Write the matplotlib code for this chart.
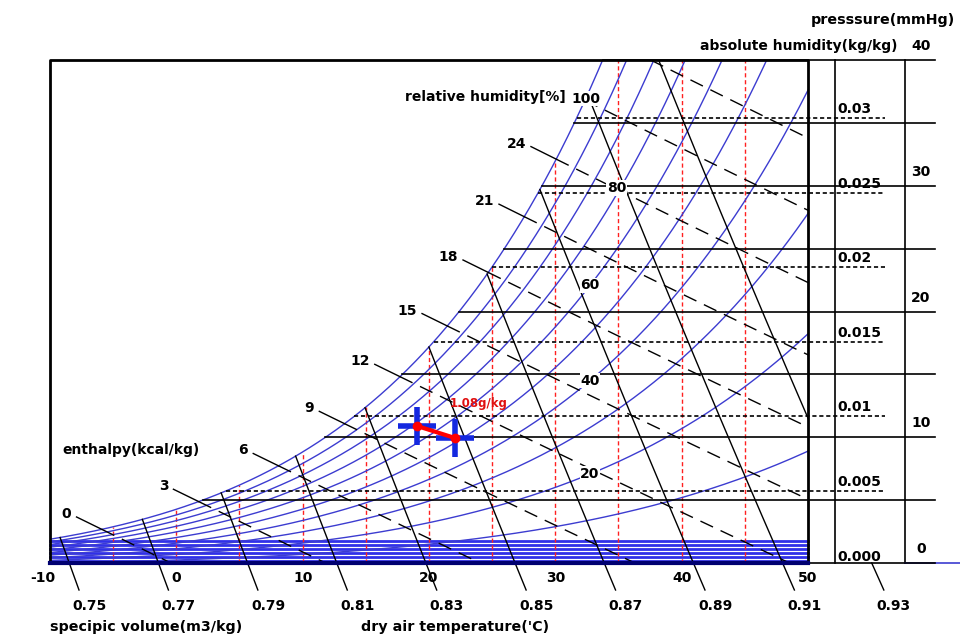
import numpy as np
import matplotlib
matplotlib.use('Agg')
import matplotlib.pyplot as plt
from matplotlib.patches import Rectangle

plt.rcParams['font.family'] = ['DejaVu Sans']
plt.rcParams['font.weight'] = 'bold'
plt.rcParams['lines.scale_dashes'] = False

# ---- chart values ----
temp_ticks = [-10, 0, 10, 20, 30, 40, 50]
temp_grid = [-5, 0, 5, 10, 15, 20, 25, 30, 35, 40, 45]
rh_levels = [10, 20, 30, 40, 50, 60, 70, 80, 90, 100]
rh_labels = [20, 40, 60, 80, 100]
rh_label_T = [32.75, 32.75, 32.75, 32.75, 32.4]
rh_label_shift = [0.0, 0.0, 0.0, 2.1, 0.0]
enthalpy_levels = [0, 3, 6, 9, 12, 15, 18, 21, 24, 27, 30]
enthalpy_labels = [0, 3, 6, 9, 12, 15, 18, 21, 24]
volume_levels = [0.75, 0.77, 0.79, 0.81, 0.83, 0.85, 0.87, 0.89, 0.91, 0.93]
abs_hum_lines = [0.005, 0.01, 0.015, 0.02, 0.025, 0.03]
abs_hum_ticks = [0.0, 0.005, 0.01, 0.015, 0.02, 0.025, 0.03]
abs_hum_ticklabels = ['0.000', '0.005', '0.01', '0.015', '0.02', '0.025', '0.03']
pressure_lines = [0, 5, 10, 15, 20, 25, 30, 35, 40]
pressure_ticks = [0, 10, 20, 30, 40]
band_w = [0.00031, 0.00058, 0.00084, 0.00111, 0.00138, 0.00165]
state_T = [19.05, 22.06]
state_w = [0.00936, 0.00855]
state_note = '1.08g/kg'

# ---- pixel layout of the chart (960x640 canvas) ----
X0, XS = 50.0, 12.633     # px of -10 C, px per degree
Y0, YS = 565.6, 14920.0   # px of w=0, px per kg/kg
PY_P0, PY_PER_MMHG = 563.0, 12.575


def T_at(px):
    return -10 + (px - X0) / XS


def w_at(py):
    return (Y0 - py) / YS


def w_of_p(p):
    return w_at(PY_P0 - PY_PER_MMHG * p)


w_bot, w_top = w_at(563), w_at(60)

# ---- psychrometrics ----
P_HPA = 1013.25
P_KPA = 101.325


def es(T):
    return 6.112 * np.exp(17.62 * T / (243.12 + T))


def w_rh(T, rh):
    e = rh / 100.0 * es(T)
    return 0.622 * e / (P_HPA - e)


def T_sat_w(w):
    e = w * P_HPA / (0.622 + w)
    a = np.log(e / 6.112)
    return 243.12 * a / (17.62 - a)


def h_line_T(h, w):
    return (h - 597.3 * w) / (0.245 + 0.441 * w)


def h_line_w(h, T):
    return (h - 0.245 * T) / (597.3 + 0.441 * T)


def v_line_T(v, w):
    return v * P_KPA / (0.287042 * (1 + 1.6078 * w)) - 273.15


Tg = np.linspace(-20, 60, 4001)
wsg = w_rh(Tg, 100)
h_sat = 0.245 * Tg + wsg * (597.3 + 0.441 * Tg)
v_sat = 0.287042 * (Tg + 273.15) * (1 + 1.6078 * wsg) / P_KPA

BLUE = '#3c3cd0'
BAND = '#3030e8'
RED = '#ff2020'

fig = plt.figure(figsize=(9.6, 6.4), dpi=100)
ax = fig.add_axes([0, 0, 1, 1])
ax.set_xlim(T_at(0), T_at(960))
ax.set_ylim(w_at(640), w_at(0))
ax.axis('off')

frame_clip = Rectangle((-10, w_bot), 60, w_top - w_bot, transform=ax.transData,
                       fill=False, edgecolor='none')
ax.add_patch(frame_clip)

# horizontal band at bottom
for wb in band_w:
    ax.plot([-10, 50], [wb, wb], color=BAND, lw=2.0, zorder=1)

# red dry-bulb temperature lines
for t in temp_grid:
    ax.plot([t, t], [w_bot, min(w_rh(t, 100), w_top)], color=RED, lw=1,
            dashes=(3, 2), zorder=2)

# relative humidity curves
T = np.linspace(-10, 50, 600)
for rh in rh_levels:
    ln, = ax.plot(T, w_rh(T, rh), color=BLUE, lw=1, zorder=3)
    ln.set_clip_path(frame_clip)

# enthalpy lines with leaders
for h in enthalpy_levels:
    Ts = np.interp(h, h_sat, Tg)
    ws = w_rh(Ts, 100)
    w = np.linspace(ws, w_bot, 300)
    ln, = ax.plot(h_line_T(h, w), w, color='black', lw=1, dashes=(10, 6), zorder=4)
    ln.set_clip_path(frame_clip)
    if h in enthalpy_labels:
        Tl = np.array([Ts - 2.0, Ts])
        wl = h_line_w(h, Tl)
        ax.plot(Tl, wl, color='black', lw=1, zorder=4)
        ax.text(Ts - 2.4, wl[0] + 3 / YS, str(h), ha='right', va='center',
                fontsize=10)

# specific volume lines
w_end = w_at(590)
for v in volume_levels:
    Ts = np.interp(v, v_sat, Tg)
    ws = w_rh(Ts, 100)
    w = np.linspace(ws, w_bot, 300)
    ln, = ax.plot(v_line_T(v, w), w, color='black', lw=1, zorder=4)
    ln.set_clip_path(frame_clip)
    w2 = np.array([w_bot, w_end])
    ax.plot(v_line_T(v, w2), w2, color='black', lw=1, zorder=4)
    ax.text(v_line_T(v, w_end) + 0.8, w_at(606), f'{v:.2f}', ha='center',
            va='center', fontsize=10)

# absolute humidity lines
for wa in abs_hum_lines:
    ax.plot([T_sat_w(wa), T_at(885)], [wa, wa], color='black', lw=1.2,
            dashes=(3, 2), zorder=4)
for wa, lab in zip(abs_hum_ticks, abs_hum_ticklabels):
    ax.text(T_at(837), wa + 2 / YS, lab, ha='left', va='bottom', fontsize=10)

# vapour pressure lines
for p in pressure_lines:
    wp = w_of_p(p)
    Ts = max(-10.0, T_sat_w(wp))
    ax.plot([Ts, T_at(935)], [wp, wp], color='black', lw=1.2, zorder=4)
for p in pressure_ticks:
    ax.text(T_at(921), w_of_p(p) + 7 / YS, str(p), ha='center', va='bottom',
            fontsize=10)

# right hand panel verticals
for px in [835, 905]:
    ax.plot([T_at(px), T_at(px)], [w_bot, w_top], color='black', lw=1.2)
ax.plot([T_at(905), T_at(960)], [w_bot, w_bot], color=BLUE, lw=1.2)

# frame
ax.plot([-10, -10, 50, 50], [w_bot, w_top, w_top, w_bot], color='black', lw=2,
        zorder=6)
ax.plot([-10, 50], [w_bot, w_bot], color='#000070', lw=3, zorder=6)

# relative humidity labels
for rh, Tl, dT in zip(rh_labels, rh_label_T, rh_label_shift):
    ax.text(Tl + dT, w_rh(Tl, rh), str(rh), ha='center', va='center',
            fontsize=10, zorder=7,
            bbox=dict(facecolor='white', edgecolor='none', pad=0.5))

# temperature ticks
for t in temp_ticks:
    ax.text(t - (0.6 if t < 0 else 0), w_at(578), str(t), ha='center',
            va='center', fontsize=10)

# titles
ax.text(T_at(566), w_at(97), 'relative humidity[%]', ha='right', va='center',
        fontsize=10)
ax.text(T_at(62), w_at(450), 'enthalpy(kcal/kg)', ha='left', va='center',
        fontsize=10)
ax.text(T_at(50), w_at(627), 'specipic volume(m3/kg)', ha='left', va='center',
        fontsize=10.3)
ax.text(T_at(549), w_at(627), "dry air temperature('C)", ha='right',
        va='center', fontsize=10.3)
ax.text(T_at(897), w_at(46), 'absolute humidity(kg/kg)', ha='right',
        va='center', fontsize=10)
ax.text(T_at(955), w_at(20), 'presssure(mmHg)', ha='right', va='center',
        fontsize=10.3)

# state points
ax.plot(state_T, state_w, ls='none', marker='+', ms=28, mew=4, color='#1428e0',
        zorder=8)
ax.plot(state_T, state_w, color='red', lw=3, zorder=9)
ax.plot(state_T, state_w, ls='none', marker='o', ms=6, color='red', zorder=10)
ax.text(T_at(450), w_at(403), state_note, ha='left', va='center', fontsize=8.5,
        color='#e01010', zorder=10)

fig.savefig('out.png', dpi=100)
